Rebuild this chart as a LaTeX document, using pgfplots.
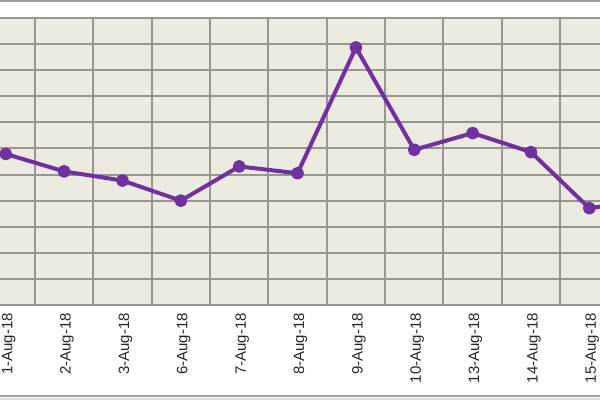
\documentclass[border=0pt]{standalone}
\usepackage{pgfplots}
\pgfplotsset{compat=1.18}
\usepackage{fontspec}
\setmainfont{Liberation Sans}
\definecolor{chartbg}{RGB}{237,235,225}
\definecolor{gridgray}{RGB}{152,150,142}
\definecolor{linepurple}{RGB}{112,48,160}
\definecolor{framegray}{RGB}{160,160,160}
\begin{document}
\begin{tikzpicture}
  \path[use as bounding box] (0pt,0pt) rectangle (450pt,-300pt);
  \fill[white] (0pt,0pt) rectangle (450pt,-300pt);
  \fill[black!15] (0pt,-298.3pt) rectangle (450pt,-300pt);
  \draw[framegray, line width=1.4pt] (0pt,-0.7pt) -- (450pt,-0.7pt);
  \draw[framegray, line width=1.5pt] (0pt,-297.3pt) -- (450pt,-297.3pt);
  \begin{axis}[
    at={(0pt,-13.5pt)}, anchor=north west,
    scale only axis, width=450pt, height=215.25pt,
    xmin=-0.099, xmax=10.183, ymin=0, ymax=11,
    axis background/.style={fill=chartbg},
    axis line style={draw=none},
    xtick={0,...,10},
    xticklabels={1-Aug-18,2-Aug-18,3-Aug-18,6-Aug-18,7-Aug-18,8-Aug-18,9-Aug-18,10-Aug-18,13-Aug-18,14-Aug-18,15-Aug-18},
    minor xtick={-0.5,0.5,...,10.5},
    xminorgrids=true, xmajorgrids=false,
    ytick={0,...,11}, yticklabels={}, ymajorgrids=true,
    major tick length=0pt, minor tick length=0pt,
    grid style={gridgray, line width=1.5pt},
    minor grid style={gridgray, line width=1.5pt},
    xticklabel style={xshift=2.2pt, rotate=90, anchor=east, inner sep=0pt,
      font=\fontsize{11.25}{13}\selectfont, text=black!85},
    xticklabel shift=6pt,
  ]
  \addplot[linepurple, line width=3pt, line join=round,
    mark=*, mark size=3.3pt, mark options={solid, fill=linepurple}]
    coordinates {
      (0,5.79) (1,5.12) (2,4.77) (3,4.00) (4,5.31) (5,5.05)
      (6,9.87) (7,5.95) (8,6.59) (9,5.86) (10,3.71) (11,4.03)
    };
  \end{axis}
\end{tikzpicture}
\end{document}
